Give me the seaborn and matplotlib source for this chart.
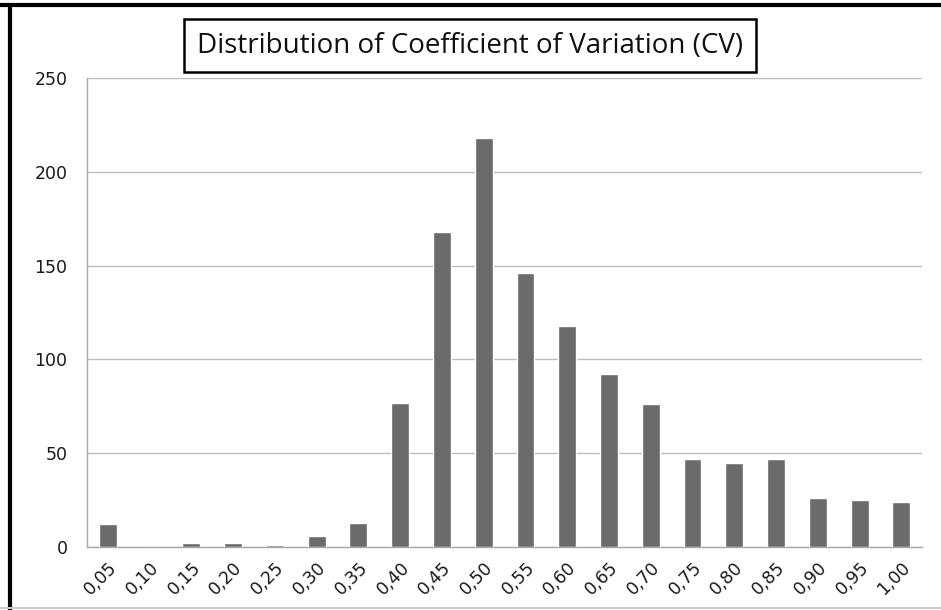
"""Distribution of coefficient of variation - bar chart."""

import numpy as np
import pandas as pd
import matplotlib.pyplot as plt
import seaborn as sns
from matplotlib.lines import Line2D

cv_bins = ["0,05", "0,10", "0,15", "0,20", "0,25", "0,30", "0,35", "0,40",
           "0,45", "0,50", "0,55", "0,60", "0,65", "0,70", "0,75", "0,80",
           "0,85", "0,90", "0,95", "1,00"]
counts = [12, 0, 2, 2, 1, 6, 13, 77, 168, 218, 146, 118, 92, 76, 47, 45,
          47, 26, 25, 24]
y_ticks = [0, 50, 100, 150, 200, 250]

df = pd.DataFrame({"cv": cv_bins, "count": counts})

sns.set_style("white")
plt.rcParams["font.family"] = ["DejaVu Sans"]

fig = plt.figure(figsize=(9.41, 6.10), dpi=100)
ax = fig.add_axes([0.0925, 0.1033, 0.8875, 0.7687])

sns.barplot(data=df, x="cv", y="count", color="#6b6b6b", width=0.43,
            saturation=1, ax=ax, zorder=3)

ax.set_ylim(0, 250)
ax.set_xlim(-0.5, len(cv_bins) - 0.5)
ax.set_yticks(y_ticks)
ax.yaxis.grid(True, color="#bdbdbd", lw=1, zorder=0)
ax.set_xlabel("")
ax.set_ylabel("")

for side in ["top", "right"]:
    ax.spines[side].set_visible(False)
for side in ["left", "bottom"]:
    ax.spines[side].set_color("#a8a8a8")
    ax.spines[side].set_linewidth(1)

# category boundary ticks on x, labels at bar centres
ax.set_xticks(np.arange(-0.5, len(cv_bins)), minor=True)
ax.tick_params(axis="x", which="minor", length=6, color="#a8a8a8",
               direction="out")
ax.tick_params(axis="x", which="major", length=0, pad=8)
ax.set_xticklabels(cv_bins, rotation=45, ha="right", va="top",
                   rotation_mode="anchor", fontsize=12.5, color="#1a1a1a")
ax.tick_params(axis="y", length=6, color="#a8a8a8", direction="out",
               labelsize=12.5, labelcolor="#1a1a1a", pad=8)

fig.text(0.4995, 0.925, "Distribution of Coefficient of Variation (CV)",
         ha="center", va="center", fontsize=20, color="#111111",
         family=["Open Sans", "DejaVu Sans"],
         bbox=dict(boxstyle="square,pad=0.45", fc="white", ec="black",
                   lw=1.8))

# outer frame like the original screenshot
fig.add_artist(Line2D([0.0, 1.0], [0.991, 0.991], color="black", lw=3,
                      transform=fig.transFigure))
fig.add_artist(Line2D([0.0105, 0.0105], [0.0, 0.991], color="black", lw=3,
                      transform=fig.transFigure))
fig.add_artist(Line2D([0.0, 1.0], [0.004, 0.004], color="#cccccc", lw=1.5,
                      transform=fig.transFigure))

fig.savefig("out.png", dpi=100)
